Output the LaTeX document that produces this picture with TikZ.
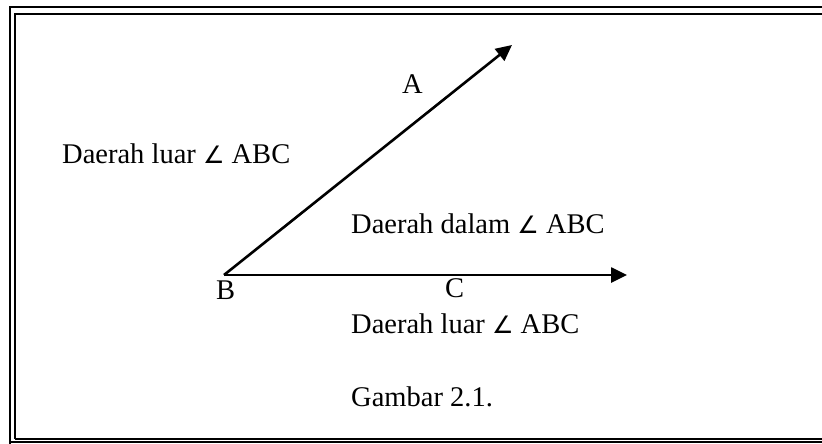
\documentclass[tikz,border=0pt]{standalone}
\usepackage{fontspec}
\setmainfont{Liberation Serif}
\newfontfamily\symf{DejaVu Sans}
\usetikzlibrary{arrows.meta}
\newcommand{\ang}{{\symf\fontsize{24}{28}\selectfont ∠}}
\begin{document}
\begin{tikzpicture}[x=1pt,y=-1pt,
  lbl/.style={anchor=base west,inner sep=0pt,font=\fontsize{28.5}{34}\selectfont},
  ray/.style={line width=2.6pt,-{Triangle[length=16pt,width=15pt]}},
  frame/.style={line width=2pt}]
\useasboundingbox (0,0) rectangle (822,444);
\draw[frame] (10,470) -- (10,7) -- (840,7);
\draw[frame] (15,439) -- (15,14) -- (840,14);
\draw[frame] (15,439) -- (840,439);
\draw[frame] (10,442) -- (840,442);
\coordinate (B) at (224,275);
\coordinate (Atip) at (512,45);
\coordinate (Ctip) at (627,275);
\draw[ray] (B) -- (Atip);
\draw[ray] (B) -- (Ctip);
\node[lbl] (out1) at (62,163) {Daerah luar \ang\ ABC};
\node[lbl] (la) at (402,93) {A};
\node[lbl] (in1) at (351,233) {Daerah dalam \ang\ ABC};
\node[lbl] (lb) at (216,299) {B};
\node[lbl] (lc) at (445,297) {C};
\node[lbl] (out2) at (351,333) {Daerah luar \ang\ ABC};
\node[lbl] (cap) at (351,406) {Gambar 2.1.};
\end{tikzpicture}
\end{document}
